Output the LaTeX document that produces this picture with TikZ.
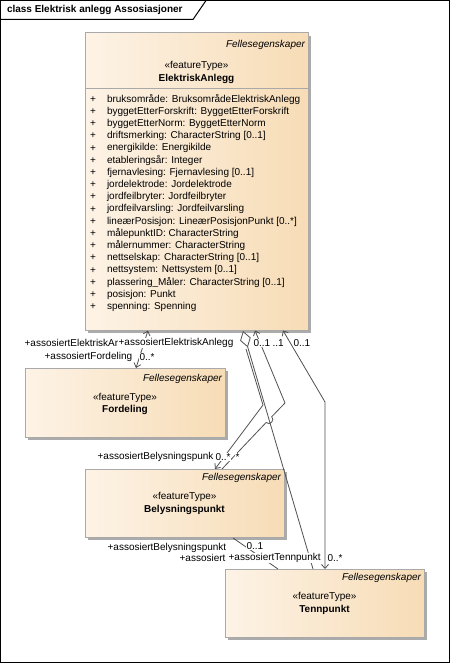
\documentclass[tikz,border=0pt]{standalone}
\usepackage{fontspec}
\setmainfont{Liberation Sans}
\usetikzlibrary{arrows.meta,shadows}
\definecolor{klasselys}{HTML}{FDF3E6}
\definecolor{klassemork}{HTML}{F7DCB6}
\definecolor{kant}{HTML}{A9A9A9}
\definecolor{linje}{HTML}{505050}
\begin{document}
\begin{tikzpicture}[x=1pt,y=-1pt,inner sep=0pt,outer sep=0pt,
		font=\fontsize{10}{12}\selectfont,
		klasse/.style 2 args={draw=kant,line width=1pt,left color=klasselys,right color=klassemork,
			minimum width=#1,minimum height=#2,anchor=north west,
			drop shadow={shadow xshift=3pt,shadow yshift=-3pt,fill=black!33,opacity=1}},
		tekst/.style={anchor=west},
		merke/.style={anchor=west,fill=white,inner sep=0.6pt},
		assoc/.style={draw=linje,line width=0.8pt},
		pil/.tip={Straight Barb[length=4pt,width=7pt]}]
	\useasboundingbox (0,0) rectangle (450,663) ;
	% ramme og fane
	\draw[line width=1pt] (0.5,0.5) rectangle (449,662) ;
	\draw[line width=1pt] (0.5,19.5)--(193,19.5)--(206,0.5) ;
	\node[tekst,font=\fontsize{10}{12}\selectfont\bfseries] (tittel) at (7,10) {class Elektrisk anlegg Assosiasjoner} ;
	% klasser
	\node[klasse={223pt}{297pt}] (ea) at (85,33) {} ;
	\node[klasse={200pt}{69pt}] (ford) at (25,368) {} ;
	\node[klasse={199pt}{68pt}] (bel) at (85,469) {} ;
	\node[klasse={199pt}{68pt}] (tenn) at (225,569) {} ;
	% ElektriskAnlegg
	\node[anchor=east,font=\fontsize{10}{12}\selectfont\itshape] (eaFelles) at (305,45) {Fellesegenskaper} ;
	\node (eaStereo) at (196.5,66) {«featureType»} ;
	\node[font=\fontsize{10}{12}\selectfont\bfseries] (eaNavn) at (196.5,78.5) {ElektriskAnlegg} ;
	\draw[kant,line width=1pt] (85,89)--(308,89) ;
	\foreach \attr [count=\i from 0] in {bruksområde: BruksområdeElektriskAnlegg,
			byggetEtterForskrift: ByggetEtterForskrift,byggetEtterNorm: ByggetEtterNorm,
			driftsmerking: CharacterString [0..1],energikilde: Energikilde,
			etableringsår: Integer,fjernavlesing: Fjernavlesing [0..1],
			jordelektrode: Jordelektrode,jordfeilbryter: Jordfeilbryter,
			jordfeilvarsling: Jordfeilvarsling,lineærPosisjon: LineærPosisjonPunkt [0..*],
			målepunktID: CharacterString,målernummer: CharacterString,
			nettselskap: CharacterString [0..1],nettsystem: Nettsystem [0..1],
			plassering\_Måler: CharacterString [0..1],posisjon: Punkt,spenning: Spenning}
	{
		\node[tekst] (pluss\i) at (90,{99.5+12.2*\i}) {+} ;
		\node[tekst] (attr\i) at (107,{99.5+12.2*\i}) {\attr} ;
	}
	% Fordeling
	\node[anchor=east,font=\fontsize{10}{12}\selectfont\itshape] (fordFelles) at (222,379) {Fellesegenskaper} ;
	\node (fordStereo) at (125,398) {«featureType»} ;
	\node[font=\fontsize{10}{12}\selectfont\bfseries] (fordNavn) at (125,410) {Fordeling} ;
	% Belysningspunkt
	\node[anchor=east,font=\fontsize{10}{12}\selectfont\itshape] (belFelles) at (281,478) {Fellesegenskaper} ;
	\node (belStereo) at (184.5,497) {«featureType»} ;
	\node[font=\fontsize{10}{12}\selectfont\bfseries] (belNavn) at (184.5,510) {Belysningspunkt} ;
	% Tennpunkt
	\node[anchor=east,font=\fontsize{10}{12}\selectfont\itshape] (tennFelles) at (421,578) {Fellesegenskaper} ;
	\node (tennStereo) at (324.5,597) {«featureType»} ;
	\node[font=\fontsize{10}{12}\selectfont\bfseries] (tennNavn) at (324.5,610) {Tennpunkt} ;
	% endepunkter
	\coordinate (eaA) at (148,330.5) ;
	\coordinate (fordA) at (136,368) ;
	\coordinate (eaD) at (243,331) ;
	\coordinate (tennD) at (313,569) ;
	\coordinate (eaB) at (246,349) ;
	\coordinate (knekkB) at (263,405) ;
	\coordinate (belB) at (215,469) ;
	\coordinate (eaC) at (255,330.5) ;
	\coordinate (knekkC) at (285,403) ;
	\coordinate (hopp1) at (271.7,416.7) ;
	\coordinate (hopp2) at (266.1,422.5) ;
	\coordinate (belC) at (222,469) ;
	\coordinate (eaE) at (283,330.5) ;
	\coordinate (knekkE) at (325,402) ;
	\coordinate (tennE) at (325,569) ;
	\coordinate (belF) at (233,538) ;
	\coordinate (tennF) at (278,569) ;
	% assosiasjoner
	\draw[assoc,pil-pil] (eaA)--(fordA) ;
	\draw[assoc,{Diamond[fill=white,length=17pt,width=11pt]}-] (eaD)--(tennD) ;
	\draw[assoc,-pil] (eaB)--(knekkB)--(belB) ;
	\draw[assoc,pil-] (eaC)--(knekkC)--(hopp1) .. controls (275.3,420.2) and (269.7,426) .. (hopp2)--(belC) ;
	\draw[assoc,pil-pil] (eaE)--(knekkE)--(tennE) ;
	\draw[assoc] (belF)--(tennF) ;
	% roller og multiplisiteter
	\node[merke] (rA1) at (24,343) {+assosiertElektriskAr} ;
	\node[merke] (rA2) at (118,343) {+assosiertElektriskAnlegg} ;
	\node[merke] (rA3) at (44,357) {+assosiertFordeling} ;
	\node[merke] (mA) at (139,357) {0..*} ;
	\node[merke] (mC1) at (253,343) {0..1} ;
	\node[merke] (mC2) at (272,343) {..1} ;
	\node[merke] (mE) at (293,343) {0..1} ;
	\node[merke] (rB) at (97,457) {+assosiertBelysningspunk} ;
	\node[merke] (mB) at (215,457) {0..*} ;
	\node[merke] (mB2) at (235,457) {*} ;
	\node[merke] (rF1) at (107,547.5) {+assosiertBelysningspunkt} ;
	\node[merke] (mF1) at (246,546) {0..1} ;
	\node[merke] (rF2) at (179,558) {+assosiert} ;
	\node[merke] (rF3) at (228,558) {+assosiertTennpunkt} ;
	\node[merke] (mF2) at (327,558) {0..*} ;
\end{tikzpicture}
\end{document}
